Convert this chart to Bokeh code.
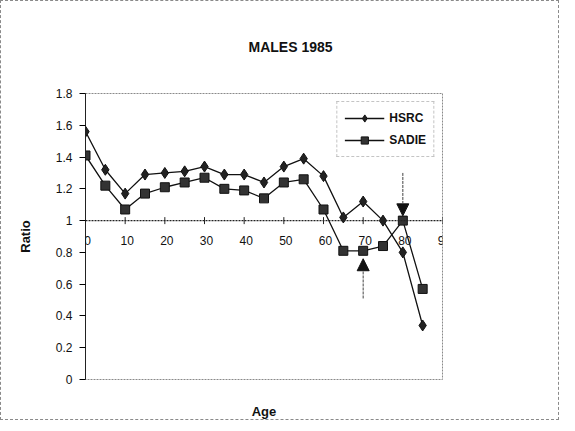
import math
from bokeh.plotting import figure
from bokeh.models import (Range1d, FixedTicker, Title, Legend, LegendItem, Arrow,
                          NormalHead, ColumnDataSource, Span, LabelSet)
from bokeh.core.properties import value
from bokeh.embed import file_html
from bokeh.resources import INLINE

ages = [0, 5, 10, 15, 20, 25, 30, 35, 40, 45, 50, 55, 60, 65, 70, 75, 80, 85]
hsrc = [1.56, 1.32, 1.17, 1.29, 1.30, 1.31, 1.34, 1.29, 1.29, 1.24, 1.34, 1.39,
        1.28, 1.02, 1.12, 1.00, 0.80, 0.34]
sadie = [1.41, 1.22, 1.07, 1.17, 1.21, 1.24, 1.27, 1.20, 1.19, 1.14, 1.24, 1.26,
         1.07, 0.81, 0.81, 0.84, 1.00, 0.57]
x_ticks = [0, 10, 20, 30, 40, 50, 60, 70, 80, 90]
x_tick_labels = ["0", "10", "20", "30", "40", "50", "60", "70", "80", "90"]
x_axis_cross = 1.0
y_ticks = [0, 0.2, 0.4, 0.6, 0.8, 1.0, 1.2, 1.4, 1.6, 1.8]
y_tick_labels = ["0", "0.2", "0.4", "0.6", "0.8", "1", "1.2", "1.4", "1.6", "1.8"]
arrow_x = [70, 80]
arrow_start = [0.51, 1.30]
arrow_end = [0.76, 1.03]

FONT = "Liberation Sans"
INK = "#111111"

p = figure(width=559, height=420, output_backend="svg", toolbar_location=None,
           x_range=Range1d(0, 90), y_range=Range1d(0, 1.8),
           min_border_left=84, min_border_right=118, min_border_top=92, min_border_bottom=40)
p.styles = {"border": "1px dashed #8a8a8a"}

p.grid.visible = False
p.outline_line_color = "#8a8a8a"
p.outline_line_dash = "2 1"
p.outline_line_width = 1

# title (spacer keeps it well above the plot area)
p.title.text = "MALES 1985"
p.title.text_font = FONT
p.title.text_font_size = "14px"
p.title.text_font_style = "bold"
p.title.align = "left"
p.title.offset = 163
p.title.text_color = INK
p.add_layout(Title(text=" ", text_font_size="20px"), "above")

# bottom axis only carries the "Age" label
xa = p.xaxis[0]
xa.ticker = FixedTicker(ticks=[])
xa.axis_line_color = None
xa.major_tick_line_color = None
xa.minor_tick_line_color = None
xa.axis_label = "Age"
xa.axis_label_text_font = FONT
xa.axis_label_text_font_size = "13px"
xa.axis_label_text_font_style = "bold"
xa.axis_label_text_color = INK
xa.axis_label_standoff = 24

# horizontal axis drawn at ratio = 1
p.add_layout(Span(location=x_axis_cross, dimension="width", line_color="#222222",
                  line_width=1.3, line_dash="2 1"))
tick_src = ColumnDataSource(dict(x=x_ticks, y=[x_axis_cross] * len(x_ticks), t=x_tick_labels))
p.scatter("x", "y", source=tick_src, marker="dash", angle=math.pi / 2, size=7,
          line_color="#222222", line_width=1)
p.add_layout(LabelSet(x="x", y="y", text="t", source=tick_src, y_offset=-15, x_offset=2,
                      text_align="center", text_baseline="top", text_font=value(FONT),
                      text_font_size=value("12px"), text_color=INK))

ya = p.yaxis[0]
ya.ticker = FixedTicker(ticks=y_ticks)
ya.major_label_overrides = {t: l for t, l in zip(y_ticks, y_tick_labels)}
ya.axis_line_color = "#222222"
ya.major_tick_in = 0
ya.major_tick_out = 6
ya.minor_tick_line_color = None
ya.major_label_standoff = 7
ya.major_label_text_font = FONT
ya.major_label_text_font_size = "12px"
ya.major_label_text_color = INK
ya.axis_label = "Ratio"
ya.axis_label_text_font = FONT
ya.axis_label_text_font_size = "13px"
ya.axis_label_text_font_style = "bold"
ya.axis_label_text_color = INK
ya.axis_label_standoff = 20

src = ColumnDataSource(dict(age=ages, hsrc=hsrc, sadie=sadie))
l1 = p.line("age", "hsrc", source=src, line_color=INK, line_width=1.3)
m1 = p.scatter("age", "hsrc", source=src, marker="diamond", size=11,
               fill_color="#222222", line_color=INK)
l2 = p.line("age", "sadie", source=src, line_color=INK, line_width=1.3)
m2 = p.scatter("age", "sadie", source=src, marker="square", size=9,
               fill_color="#333333", line_color=INK)

for ax, s, e in zip(arrow_x, arrow_start, arrow_end):
    p.add_layout(Arrow(x_start=ax, y_start=s, x_end=ax, y_end=e,
                       line_color="#444444", line_width=1, line_dash="3 1",
                       end=NormalHead(size=12, fill_color=INK, line_color=INK)))

legend = Legend(items=[LegendItem(label="HSRC", renderers=[l1, m1]),
                       LegendItem(label="SADIE", renderers=[l2, m2])],
                location="top_right", margin=8, padding=7, spacing=4,
                glyph_width=40, glyph_height=18, label_standoff=5,
                label_text_font=FONT, label_text_font_size="12px",
                label_text_font_style="bold", label_text_color=INK,
                border_line_color="#8a8a8a", border_line_dash="2 1",
                background_fill_color="white", background_fill_alpha=1)
p.add_layout(legend)

open("out.html", "w").write(file_html(p, INLINE))
